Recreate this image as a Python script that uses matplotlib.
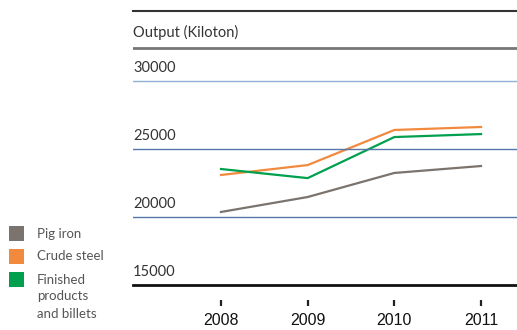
import matplotlib.pyplot as plt
from matplotlib.patches import Rectangle
from matplotlib.transforms import blended_transform_factory

years = [2008, 2009, 2010, 2011]
pig_iron = [20370, 21470, 23240, 23750]
crude_steel = [23090, 23820, 26400, 26620]
finished = [23530, 22860, 25880, 26100]

series_names = ["Pig iron", "Crude steel", "Finished\nproducts\nand billets"]
series_colors = ["#7b736d", "#f28a3e", "#00a04f"]
y_levels = [15000, 20000, 25000, 30000]

plt.rcParams["font.family"] = ["Lato", "DejaVu Sans"]

W, H = 517, 330
fig = plt.figure(figsize=(W / 100, H / 100), dpi=100)
ax = fig.add_axes([133 / W, 1 - 285 / H, 1 - 133 / W, (285 - 11) / H])

for vals, color in zip([pig_iron, crude_steel, finished], series_colors):
    ax.plot(years, vals, color=color, lw=1.6, solid_joinstyle="miter")

ax.set_xlim(2006.985, 2011.415)
ax.set_ylim(15000, 35150)

# horizontal rules
ax.axhline(30000, color="#8fb0d4", lw=1.0)
ax.axhline(25000, color="#5776a8", lw=1.0)
ax.axhline(20000, color="#5776a8", lw=1.0)
ax.axhline(32430, color="#777777", lw=2.0)

for s in ["left", "right"]:
    ax.spines[s].set_visible(False)
ax.spines["bottom"].set_color("#111111")
ax.spines["bottom"].set_linewidth(2)
ax.spines["top"].set_color("#333333")
ax.spines["top"].set_linewidth(1.5)

ax.set_yticks([])
ax.set_xticks(years)
ax.set_xticklabels([str(y) for y in years], fontsize=11.5,
                   family="Liberation Sans", color="#111111")
ax.tick_params(axis="x", length=0, pad=20)

# detached tick marks below the axis
trans = blended_transform_factory(ax.transData, ax.transAxes)
ax.plot(years, [-0.066] * len(years), ls="none", marker="|", ms=4,
        mew=1.6, color="#222222", transform=trans, clip_on=False)

for lvl in y_levels:
    ax.annotate(str(lvl), xy=(0, lvl), xycoords=("axes fraction", "data"),
                xytext=(0, 4), textcoords="offset points",
                ha="left", va="bottom", fontsize=10.5, color="#333333")

ax.annotate("Output (Kiloton)", xy=(0, 32430), xycoords=("axes fraction", "data"),
            xytext=(0, 6), textcoords="offset points",
            ha="left", va="bottom", fontsize=10.5, color="#333333")

# legend, built by hand so the swatch sits on the first text line
for i, (name, color) in enumerate(zip(series_names, series_colors)):
    top = 226 + 23 * i
    fig.add_artist(Rectangle((9 / W, 1 - (top + 15) / H), 15 / W, 15 / H,
                             transform=fig.transFigure, facecolor=color,
                             edgecolor="none"))
    fig.text(37 / W, 1 - (top + 7.5) / H, name.split("\n")[0], fontsize=9.5,
             color="#555555", ha="left", va="center")
    for j, line in enumerate(name.split("\n")[1:], start=1):
        fig.text(37 / W, 1 - (top + 7.5 + 17 * j) / H, line, fontsize=9.5,
                 color="#555555", ha="left", va="center")

fig.savefig("out.png", dpi=100)
